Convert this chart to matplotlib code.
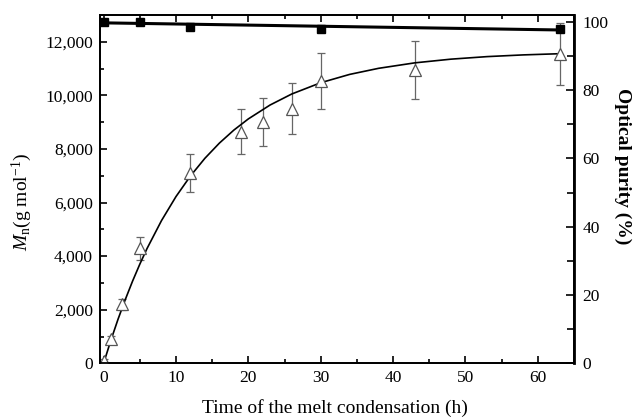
import matplotlib
matplotlib.use("Agg")
import matplotlib.pyplot as plt
from matplotlib.ticker import MultipleLocator, FuncFormatter

# Mn data (triangles) with error bars
t_mn = [0, 1, 2.5, 5, 12, 19, 22, 26, 30, 43, 63]
mn = [100, 900, 2200, 4300, 7100, 8650, 9000, 9500, 10550, 10950, 11550]
mn_err = [60, 120, 200, 430, 700, 850, 900, 950, 1050, 1080, 1150]

# Fitted curve for Mn
fit_t = [0, 1, 2, 3, 4, 5, 6, 8, 10, 12, 14, 16, 18, 20, 23, 26, 30, 34, 38, 43, 48, 53, 58, 63]
fit_mn = [0, 857, 1651, 2383, 3067, 3699, 4284, 5327, 6223, 6992, 7653, 8219, 8705, 9122,
          9640, 10052, 10472, 10783, 11010, 11214, 11352, 11447, 11511, 11555]

# Optical purity (squares)
t_op = [0, 5, 12, 30, 63]
op = [100, 100, 98.4, 97.8, 98.0]
op_line_t = [0, 63.5]
op_line = [99.7, 97.6]

plt.rcParams['font.family'] = ['Liberation Serif', 'DejaVu Serif']
plt.rcParams['mathtext.fontset'] = 'custom'
plt.rcParams['mathtext.rm'] = 'Liberation Serif'
plt.rcParams['mathtext.it'] = 'Liberation Serif:italic'

fig = plt.figure(figsize=(6.38, 4.2), dpi=100)
ax = fig.add_axes([100/638, 1-363.3/420, 474/638, 348.3/420])
ax2 = ax.twinx()

ax.errorbar(t_mn, mn, yerr=mn_err, fmt='none', ecolor='#666666', elinewidth=0.9,
            capsize=3, capthick=0.9, zorder=2)
ax.plot(fit_t, fit_mn, color='black', lw=1.2, zorder=3)
ax.plot(t_mn, mn, linestyle='none', marker='^', markersize=8, markerfacecolor='white',
        markeredgecolor='#555555', markeredgewidth=0.9, zorder=4)

ax2.plot(op_line_t, op_line, color='black', lw=2.2, zorder=3)
ax2.plot(t_op, op, linestyle='none', marker='s', markersize=5.5, color='black', zorder=4)

ax.set_xlim(-0.5, 65)
ax.set_ylim(0, 13000)
ax2.set_ylim(0, 102)

ax.xaxis.set_major_locator(MultipleLocator(10))
ax.xaxis.set_minor_locator(MultipleLocator(5))
ax.yaxis.set_major_locator(MultipleLocator(2000))
ax.yaxis.set_minor_locator(MultipleLocator(1000))
ax.yaxis.set_major_formatter(FuncFormatter(lambda v, p: f"{int(v):,}"))
ax2.yaxis.set_major_locator(MultipleLocator(20))
ax2.yaxis.set_minor_locator(MultipleLocator(10))

ax.tick_params(axis='both', which='both', direction='in', labelsize=12.5, top=True, width=1.2)
ax.tick_params(which='major', length=5, pad=5)
ax.tick_params(which='minor', length=3)
ax2.tick_params(axis='y', which='both', direction='in', labelsize=12.5, width=1.2)
ax2.tick_params(which='major', length=6, pad=6)
ax2.tick_params(which='minor', length=5)

for s in ax.spines.values():
    s.set_linewidth(1.3)
for s in ax2.spines.values():
    s.set_linewidth(1.3)
ax2.spines['right'].set_linewidth(2.0)

fig.text(335/638, 1-408/420, 'Time of the melt condensation (h)', fontsize=14,
         ha='center', va='center')
fig.text(22/638, 1-202/420, r'$M_{\mathrm{n}}$(g mol$^{\mathrm{-1}}$)', fontsize=14,
         ha='center', va='center', rotation=90)
fig.text(623/638, 1-166/420, 'Optical purity (%)', fontsize=14, fontweight='bold',
         ha='center', va='center', rotation=-90)

fig.savefig('out.png', dpi=100)
